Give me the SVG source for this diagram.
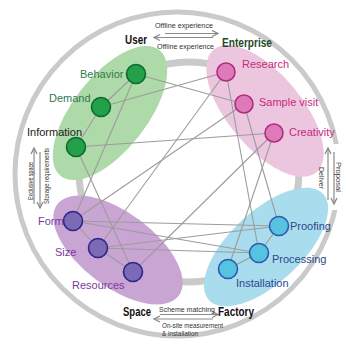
<svg xmlns="http://www.w3.org/2000/svg" width="346" height="344" viewBox="0 0 346 344">
  <defs>
    <marker id="head" viewBox="0 0 8 8" refX="7" refY="4" markerWidth="8" markerHeight="8" markerUnits="userSpaceOnUse" orient="auto-start-reverse">
      <path d="M1,1 L7,4 L1,7" fill="none" stroke="#8a8a8a" stroke-width="1.3"/>
    </marker>
    <style>
      .ring { fill: none; stroke: #cacaca; }
      .flow { stroke: #8a8a8a; stroke-width: 1.2; fill: none; }
      .edge { stroke: #9c9c9c; stroke-width: 1.1; }
      .lbl { font-family: "Liberation Sans", Arial, sans-serif; font-size: 11px; }
      .small { font-family: "Liberation Sans", Arial, sans-serif; font-size: 7px; fill: #333; }
      .head { font-family: "Liberation Sans", Arial, sans-serif; font-size: 13px; font-weight: bold; }
      .g-node { fill: #22a04a; stroke: #0d6a2c; stroke-width: 1.6; }
      .p-node { fill: #de7ab8; stroke: #b22a82; stroke-width: 1.6; }
      .v-node { fill: #7b6ab6; stroke: #2f2488; stroke-width: 1.6; }
      .b-node { fill: #56c3e0; stroke: #2a5bb0; stroke-width: 1.6; }
    </style>
  </defs>

  <rect width="346" height="344" fill="#ffffff"/>

  <!-- rings -->
  <circle class="ring" cx="177" cy="174" r="162" stroke-width="5"/>
  <circle class="ring" cx="189" cy="172" r="110" stroke-width="7"/>

  <!-- white gap under the right-hand labels -->
  <rect x="316" y="144" width="28" height="66" fill="#ffffff"/>

  <!-- group backgrounds -->
  <ellipse cx="110" cy="113" rx="80" ry="37" transform="rotate(-52 110 113)" fill="#aed9a9"/>
  <ellipse cx="265" cy="111" rx="80" ry="37" transform="rotate(50 265 111)" fill="#ecc6de"/>
  <ellipse cx="118" cy="250" rx="76" ry="37" transform="rotate(37 118 250)" fill="#c9a5d3"/>
  <ellipse cx="266" cy="247" rx="78" ry="36" transform="rotate(-43 266 247)" fill="#a9dcec"/>

  <!-- relation arrows between the four parties -->
  <g id="flows">
    <line class="flow" x1="165" y1="33.5" x2="218" y2="33.5" marker-end="url(#head)"/>
    <line class="flow" x1="213" y1="37.5" x2="154" y2="37.5" marker-end="url(#head)"/>
    <line class="flow" x1="160" y1="314.5" x2="218" y2="314.5" marker-end="url(#head)"/>
    <line class="flow" x1="213" y1="319" x2="154" y2="319" marker-end="url(#head)"/>
    <line class="flow" x1="34" y1="204" x2="34" y2="148" marker-end="url(#head)"/>
    <line class="flow" x1="40" y1="152" x2="40" y2="208" marker-end="url(#head)"/>
    <line class="flow" x1="328" y1="200" x2="328" y2="148" marker-end="url(#head)"/>
    <line class="flow" x1="334" y1="152" x2="334" y2="204" marker-end="url(#head)"/>
  </g>

  <g id="flow-labels">
    <text class="small" x="155" y="27.5" textLength="58" lengthAdjust="spacingAndGlyphs">Offline experience</text>
    <text class="small" x="157" y="49" textLength="57" lengthAdjust="spacingAndGlyphs">Offline experience</text>
    <text class="small" x="159" y="312" textLength="56" lengthAdjust="spacingAndGlyphs">Scheme matching</text>
    <text class="small" x="162" y="328" textLength="61" lengthAdjust="spacingAndGlyphs">On-site measurement</text>
    <text class="small" x="162" y="335.5" textLength="36" lengthAdjust="spacingAndGlyphs">&amp; installation</text>
    <text class="small" transform="translate(33 181) rotate(-90)" text-anchor="middle" textLength="38" lengthAdjust="spacingAndGlyphs">Exclusive space</text>
    <text class="small" transform="translate(48.5 176) rotate(-90)" text-anchor="middle" textLength="56" lengthAdjust="spacingAndGlyphs">Storage requirements</text>
    <text class="small" transform="translate(319 178) rotate(90)" text-anchor="middle" textLength="22" lengthAdjust="spacingAndGlyphs">Deliver</text>
    <text class="small" transform="translate(336 177) rotate(90)" text-anchor="middle" textLength="30" lengthAdjust="spacingAndGlyphs">Proposal</text>
  </g>

  <g id="parties">
    <text class="head" x="125" y="44" fill="#111" textLength="22" lengthAdjust="spacingAndGlyphs">User</text>
    <text class="head" x="222" y="47" fill="#1f4a28" textLength="50" lengthAdjust="spacingAndGlyphs">Enterprise</text>
    <text class="head" x="123" y="316" fill="#111" textLength="28" lengthAdjust="spacingAndGlyphs">Space</text>
    <text class="head" x="218" y="316" fill="#111" textLength="36" lengthAdjust="spacingAndGlyphs">Factory</text>
  </g>

  <!-- links between factors -->
  <g id="connectors">
    <line class="edge" x1="136" y1="74" x2="101" y2="107"/>
    <line class="edge" x1="101" y1="107" x2="76" y2="147"/>
    <line class="edge" x1="136" y1="74" x2="244" y2="104"/>
    <line class="edge" x1="101" y1="107" x2="226" y2="72"/>
    <line class="edge" x1="136" y1="74" x2="73" y2="221"/>
    <line class="edge" x1="76" y1="147" x2="274" y2="133"/>
    <line class="edge" x1="76" y1="147" x2="133" y2="272"/>
    <line class="edge" x1="226" y1="72" x2="98" y2="248"/>
    <line class="edge" x1="226" y1="72" x2="259" y2="253"/>
    <line class="edge" x1="244" y1="104" x2="279" y2="226"/>
    <line class="edge" x1="274" y1="133" x2="228" y2="269"/>
    <line class="edge" x1="274" y1="133" x2="133" y2="272"/>
    <line class="edge" x1="244" y1="104" x2="73" y2="221"/>
    <line class="edge" x1="73" y1="221" x2="279" y2="226"/>
    <line class="edge" x1="73" y1="221" x2="259" y2="253"/>
    <line class="edge" x1="98" y1="248" x2="279" y2="226"/>
    <line class="edge" x1="98" y1="248" x2="259" y2="253"/>
    <line class="edge" x1="73" y1="221" x2="98" y2="248"/>
    <line class="edge" x1="98" y1="248" x2="133" y2="272"/>
    <line class="edge" x1="279" y1="226" x2="259" y2="253"/>
    <line class="edge" x1="259" y1="253" x2="228" y2="269"/>
  </g>

  <g id="behavior"><circle class="g-node" cx="136" cy="74" r="9.5"/><text class="lbl" x="80" y="77.5" fill="#2e7a4c">Behavior</text></g>
  <g id="demand"><circle class="g-node" cx="101" cy="107" r="9.5"/><text class="lbl" x="49" y="102" fill="#2e7a4c">Demand</text></g>
  <g id="information"><circle class="g-node" cx="76" cy="147" r="9.5"/><text class="lbl" x="27" y="135.5" fill="#222">Information</text></g>

  <g id="research"><circle class="p-node" cx="226" cy="72" r="9"/><text class="lbl" x="242" y="68" fill="#c72a7c">Research</text></g>
  <g id="sample-visit"><circle class="p-node" cx="244" cy="104" r="9"/><text class="lbl" x="259" y="105.5" fill="#c72a7c">Sample visit</text></g>
  <g id="creativity"><circle class="p-node" cx="274" cy="133" r="9"/><text class="lbl" x="289" y="136" fill="#c72a7c">Creativity</text></g>

  <g id="form"><circle class="v-node" cx="73" cy="221" r="9.5"/><text class="lbl" x="38" y="225" fill="#7a3a9c">Form</text></g>
  <g id="size"><circle class="v-node" cx="98" cy="248" r="9.5"/><text class="lbl" x="55" y="256" fill="#7a3a9c">Size</text></g>
  <g id="resources"><circle class="v-node" cx="133" cy="272" r="9.5"/><text class="lbl" x="72" y="289" fill="#7a3a9c">Resources</text></g>

  <g id="proofing"><circle class="b-node" cx="279" cy="226" r="9.5"/><text class="lbl" x="290" y="230" fill="#2b4a8c">Proofing</text></g>
  <g id="processing"><circle class="b-node" cx="259" cy="253" r="9.5"/><text class="lbl" x="272" y="263" fill="#2b4a8c">Processing</text></g>
  <g id="installation"><circle class="b-node" cx="228" cy="269" r="9.5"/><text class="lbl" x="236" y="287" fill="#2b4a8c">Installation</text></g>
</svg>
